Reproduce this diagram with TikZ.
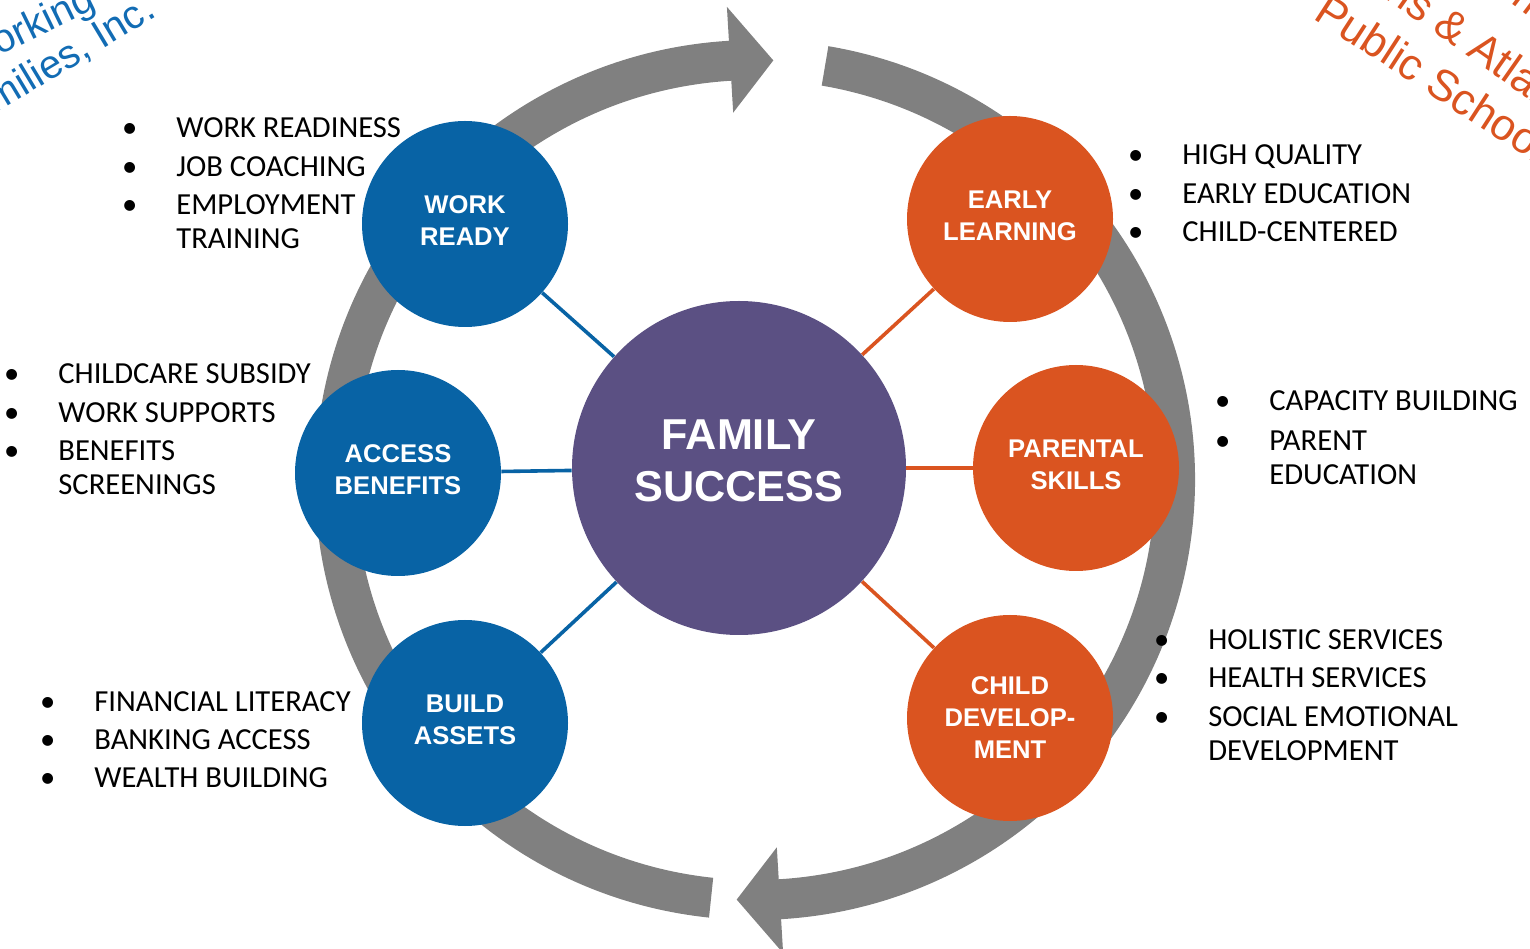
\documentclass[tikz,border=0pt]{standalone}
\usepackage{fontspec}
\newfontfamily\listfont{Carlito}
\newfontfamily\headfont{Liberation Sans}
\usetikzlibrary{calc}

\definecolor{wfblue}{RGB}{8,99,165}
\definecolor{elorange}{RGB}{218,84,32}
\definecolor{fampurple}{RGB}{91,80,131}
\definecolor{ringgray}{RGB}{128,128,128}
\definecolor{cornerblue}{RGB}{18,108,180}

\newcommand{\bul}{\llap{\textbullet\hspace{19.5pt}}}

\begin{document}
\begin{tikzpicture}[x=0.5pt, y=0.5pt,
    hub/.style={circle, fill=fampurple, minimum size=167pt, inner sep=0pt},
    hubtext/.style={text=white, align=center, yshift=3.5pt,
        font=\headfont\bfseries\fontsize{21.6}{26}\selectfont},
    bluebub/.style={circle, fill=wfblue, minimum size=103pt, inner sep=0pt},
    orangebub/.style={bluebub, fill=elorange},
    bubtext/.style={text=white, align=center, yshift=1.5pt,
        font=\headfont\bfseries\fontsize{12.8}{16}\selectfont},
    bluelink/.style={wfblue, line width=1.8pt},
    orangelink/.style={elorange, line width=1.8pt},
    listtext/.style={anchor=base west, inner sep=0pt, font=\listfont\fontsize{15.3}{17}\selectfont},
    corner/.style={inner sep=0pt, font=\headfont\fontsize{20}{23}\selectfont},
    bigcorner/.style={corner, font=\headfont\fontsize{22}{25}\selectfont}]
    \useasboundingbox (0,0) rectangle (1530,948);
    \clip (0,0) rectangle (1530,948);

    % Gray ring made of two arrows
    \begin{scope}[shift={(755,468)}]
        \fill[ringgray] (264:440) arc[start angle=264, end angle=93.4, radius=440]
            -- (93.4:474) -- (87.5:420) -- (93.4:368) -- (93.4:400)
            arc[start angle=93.4, end angle=264, radius=400] -- cycle;
        \fill[ringgray] (80.4:440) arc[start angle=80.4, end angle=-86.6, radius=440]
            -- (-86.6:474) -- (-92.5:420) -- (-86.6:368) -- (-86.6:400)
            arc[start angle=-86.6, end angle=80.4, radius=400] -- cycle;
    \end{scope}

    % Centre and the six bubbles
    \node[hub, label={[hubtext]center:FAMILY\\SUCCESS}] (fam) at (739,480) {};
    \node[bluebub, label={[bubtext]center:WORK\\READY}] (wr) at (465,724) {};
    \node[bluebub, label={[bubtext]center:ACCESS\\BENEFITS}] (ab) at (398,475) {};
    \node[bluebub, label={[bubtext]center:BUILD\\ASSETS}] (ba) at (465,225) {};
    \node[orangebub, label={[bubtext]center:EARLY\\LEARNING}] (el) at (1010,729) {};
    \node[orangebub, label={[bubtext]center:PARENTAL\\SKILLS}] (ps) at (1076,480) {};
    \node[orangebub, label={[bubtext, yshift=-1.5pt]center:CHILD\\DEVELOP-\\MENT}] (cd) at (1010,230) {};

    % Spokes
    \draw[bluelink] (wr) -- (fam);
    \draw[bluelink] (ab) -- (fam);
    \draw[bluelink] (ba) -- (fam);
    \draw[orangelink] (el) -- (fam);
    \draw[orangelink] (ps) -- (fam);
    \draw[orangelink] (cd) -- (fam);

    % Bullet lists
    \node[listtext] (wrlist) at (176,810) {\begin{tabular}[t]{@{}l@{}}
        \bul WORK READINESS\\[2.25pt] \bul JOB COACHING\\[2.25pt] \bul EMPLOYMENT\\ TRAINING\end{tabular}};
    \node[listtext] (ablist) at (58,564) {\begin{tabular}[t]{@{}l@{}}
        \bul CHILDCARE SUBSIDY\\[2.25pt] \bul WORK SUPPORTS\\[2.25pt] \bul BENEFITS\\ SCREENINGS\end{tabular}};
    \node[listtext] (balist) at (94,237) {\begin{tabular}[t]{@{}l@{}}
        \bul FINANCIAL LITERACY\\[2.25pt] \bul BANKING ACCESS\\[2.25pt] \bul WEALTH BUILDING\end{tabular}};
    \node[listtext] (ellist) at (1182,783) {\begin{tabular}[t]{@{}l@{}}
        \bul HIGH QUALITY\\[2.25pt] \bul EARLY EDUCATION\\[2.25pt] \bul CHILD-CENTERED\end{tabular}};
    \node[listtext] (pslist) at (1269,537) {\begin{tabular}[t]{@{}l@{}}
        \bul CAPACITY BUILDING\\[3pt] \bul PARENT\\ EDUCATION\end{tabular}};
    \node[listtext] (cdlist) at (1208,299) {\begin{tabular}[t]{@{}l@{}}
        \bul HOLISTIC SERVICES\\[2.25pt] \bul HEALTH SERVICES\\[2.25pt] \bul SOCIAL EMOTIONAL\\ DEVELOPMENT\end{tabular}};

    % Partner names in the corners
    \node[corner, text=cornerblue, anchor=base east, rotate=26] (wfa) at (98,940) {Working};
    \node[corner, text=cornerblue, anchor=base east, rotate=31] (wfb) at (158,932) {Families, Inc.};
    \node[bigcorner, text=elorange, anchor=base west, rotate=-37] (apsz) at (1425,1010) {Community};
    \node[bigcorner, text=elorange, anchor=base west, rotate=-35] (apsa) at (1383,951) {ns \& Atlanta};
    \node[bigcorner, text=elorange, anchor=base west, rotate=-33] (apsb) at (1312,930) {Public Schools};
\end{tikzpicture}
\end{document}
